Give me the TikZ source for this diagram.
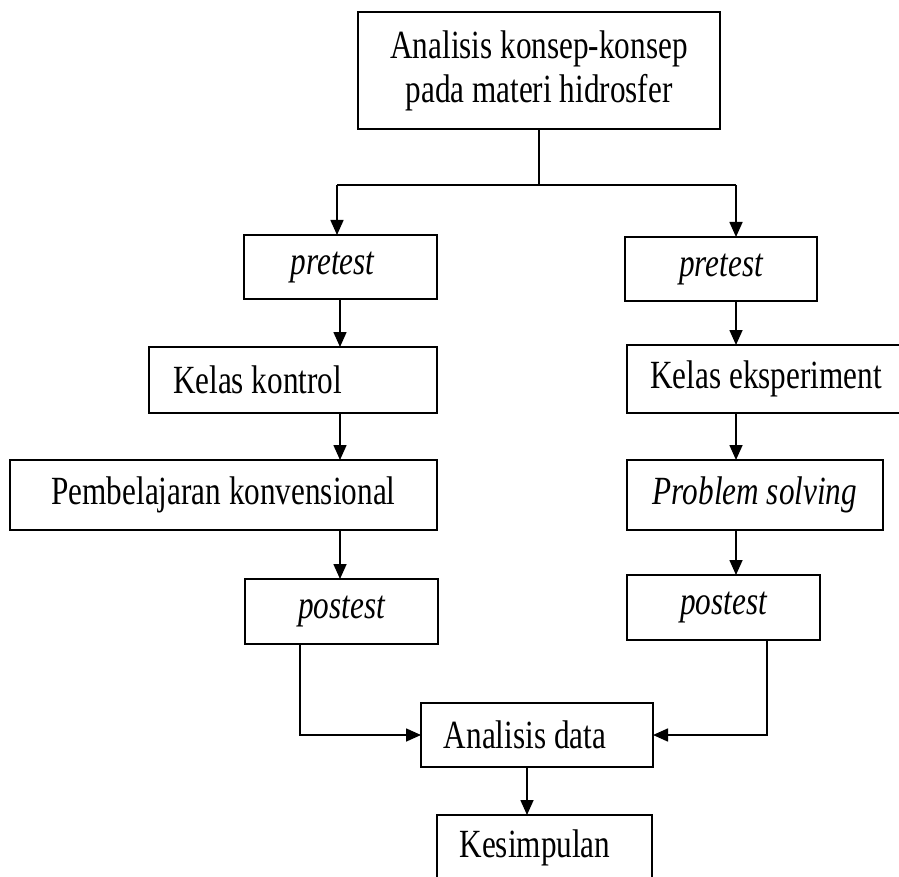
\documentclass[tikz,border=0pt]{standalone}
\usepackage{fontspec}
\setmainfont{Liberation Serif}[FakeStretch=0.78]
\usetikzlibrary{arrows.meta}
\begin{document}
\begin{tikzpicture}[x=1pt,y=-1pt,
  box/.style={draw, line width=1.6pt, rectangle, inner sep=0pt, outer sep=0pt,
    font=\fontsize{40}{44}\selectfont},
  arr/.style={line width=1.6pt, -{Triangle[length=15pt,width=13pt]}},
  ln/.style={line width=1.6pt}]
\useasboundingbox (0,0) rectangle (899,877);
\clip (0,0) rectangle (899,877);

\node[box, align=center, minimum width=362pt, minimum height=117pt] (top) at (539,70.5)
  {Analisis konsep-konsep\\pada materi hidrosfer};
\node[box, minimum width=193pt, minimum height=64pt] (preL) at (340.5,267) {\itshape pretest\hspace*{16pt}\mbox{}};
\node[box, minimum width=192pt, minimum height=64pt] (preR) at (721,269) {\itshape pretest};
\node[box, minimum width=288pt, minimum height=66pt] (kontrol) at (293,380) {Kelas kontrol\hspace*{71pt}\mbox{}};
\node[box, minimum width=278pt, minimum height=68pt] (eksp) at (766,379) {Kelas eksperiment};
\node[box, minimum width=427pt, minimum height=70pt] (konv) at (223.5,495) {Pembelajaran konvensional};
\node[box, minimum width=256pt, minimum height=70pt] (prob) at (755,495) {\itshape Problem solving};
\node[box, minimum width=193pt, minimum height=65pt] (postL) at (341.5,611.5) {\itshape postest};
\node[box, minimum width=193pt, minimum height=65pt] (postR) at (723.5,607.5) {\itshape postest};
\node[box, minimum width=232pt, minimum height=64pt] (anal) at (537,735) {Analisis data\hspace*{24pt}\mbox{}};
\node[box, minimum width=215pt, minimum height=65pt] (kes) at (544.5,847.5) {Kesimpulan\hspace*{19pt}\mbox{}};

% split from the top box
\coordinate (j) at (539,185);
\coordinate (jl) at (337,185);
\coordinate (jr) at (736,185);
\draw[ln] (top.south) -- (j);
\draw[ln] (jl) -- (jr);
\draw[arr] (jl) -- (jl |- preL.north);
\draw[arr] (jr) -- (jr |- preR.north);

% left column
\coordinate (cl) at (340,0);
\draw[arr] (cl |- preL.south) -- (cl |- kontrol.north);
\draw[arr] (cl |- kontrol.south) -- (cl |- konv.north);
\draw[arr] (cl |- konv.south) -- (cl |- postL.north);

% right column
\coordinate (cr) at (736,0);
\draw[arr] (cr |- preR.south) -- (cr |- eksp.north);
\draw[arr] (cr |- eksp.south) -- (cr |- prob.north);
\draw[arr] (cr |- prob.south) -- (cr |- postR.north);

% merge
\coordinate (bl) at (300,0);
\coordinate (br) at (767,0);
\coordinate (bm) at (527,0);
\draw[arr] (bl |- postL.south) |- (anal.west);
\draw[arr] (br |- postR.south) |- (anal.east);
\draw[arr] (bm |- anal.south) -- (bm |- kes.north);
\end{tikzpicture}
\end{document}
